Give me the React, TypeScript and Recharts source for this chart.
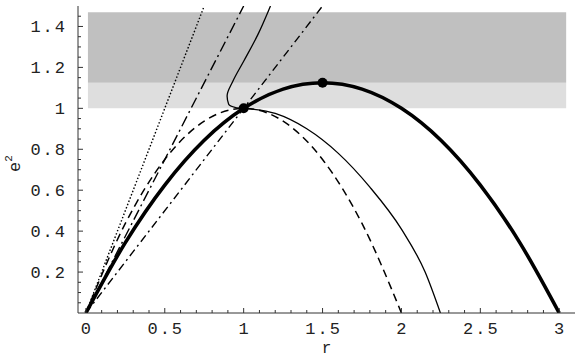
import { ComposedChart, Line, XAxis, YAxis, ReferenceArea, ReferenceDot } from 'recharts';

// e^2 versus r
const thickCurve = [
  { r: 0, e2: 0 },
  { r: 0.25, e2: 0.344 },
  { r: 0.5, e2: 0.625 },
  { r: 0.75, e2: 0.844 },
  { r: 1, e2: 1 },
  { r: 1.25, e2: 1.094 },
  { r: 1.5, e2: 1.125 },
  { r: 1.75, e2: 1.094 },
  { r: 2, e2: 1 },
  { r: 2.25, e2: 0.844 },
  { r: 2.5, e2: 0.625 },
  { r: 2.75, e2: 0.344 },
  { r: 3, e2: 0 },
];

const dashedCurve = [
  { r: 0, e2: 0 },
  { r: 0.25, e2: 0.4375 },
  { r: 0.5, e2: 0.75 },
  { r: 0.75, e2: 0.9375 },
  { r: 1, e2: 1 },
  { r: 1.25, e2: 0.9375 },
  { r: 1.5, e2: 0.75 },
  { r: 1.75, e2: 0.4375 },
  { r: 2, e2: 0 },
];

// thin solid: upper branch comes down from the top and turns into (1, 1)
const thinUpper = [
  { r: 1.17, e2: 1.5 },
  { r: 1.09, e2: 1.36 },
  { r: 1.0, e2: 1.23 },
  { r: 0.93, e2: 1.13 },
  { r: 0.895, e2: 1.06 },
  { r: 0.905, e2: 1.02 },
  { r: 0.95, e2: 1.004 },
  { r: 1, e2: 1 },
];

const thinLower = [
  { r: 1, e2: 1 },
  { r: 1.2, e2: 0.975 },
  { r: 1.4, e2: 0.9 },
  { r: 1.6, e2: 0.78 },
  { r: 1.8, e2: 0.615 },
  { r: 2.0, e2: 0.41 },
  { r: 2.15, e2: 0.2 },
  { r: 2.247, e2: 0 },
];

const dottedLine = [
  { r: 0, e2: 0 },
  { r: 0.75, e2: 1.5 },
];

const steepDashDot = [
  { r: 0, e2: 0 },
  { r: 1, e2: 1.5 },
];

const lowDashDot = [
  { r: 0, e2: 0 },
  { r: 1.5, e2: 1.5 },
];

const markers = [
  { r: 1, e2: 1 },
  { r: 1.5, e2: 1.125 },
];

const bands = [
  { y1: 1, y2: 1.125, fill: '#dedede' },
  { y1: 1.125, y2: 1.47, fill: '#c0c0c0' },
];

const X_MAJOR = [0, 0.5, 1, 1.5, 2, 2.5, 3];
const X_LABELS = ['0', '0.5', '1', '1.5', '2', '2.5', '3'];
const Y_MAJOR = [0.2, 0.4, 0.6, 0.8, 1, 1.2, 1.4];
const Y_LABELS = ['0.2', '0.4', '0.6', '0.8', '1', '1.2', '1.4'];

// minor + major tick positions
const X_TICKS = Array.from({ length: 31 }, (_, i) => i / 10);
const Y_TICKS = Array.from({ length: 29 }, (_, i) => ((i + 1) * 5) / 100);

const FONT = '"Liberation Mono", "DejaVu Sans Mono", monospace';
const FRAME = '#333';

const majorIndex = (v: number, majors: number[]) =>
  majors.findIndex((m) => Math.abs(m - v) < 1e-6);

function BottomTick({ x, y, payload }: any) {
  const i = majorIndex(payload.value, X_MAJOR);
  return (
    <g>
      <line x1={x} x2={x} y1={y} y2={y - (i >= 0 ? 5 : 3)} stroke={FRAME} />
      {i >= 0 && (
        <text x={x + 1} y={y + 21} textAnchor="middle" fontFamily={FONT} fontSize={17} letterSpacing={2} fill="#222">
          {X_LABELS[i]}
        </text>
      )}
    </g>
  );
}

function TopTick({ x, y, payload }: any) {
  const i = majorIndex(payload.value, X_MAJOR);
  return <line x1={x} x2={x} y1={y} y2={y + (i >= 0 ? 5 : 3)} stroke={FRAME} />;
}

function LeftTick({ x, y, payload }: any) {
  const i = majorIndex(payload.value, Y_MAJOR);
  return (
    <g>
      <line x1={x} x2={x + (i >= 0 ? 5 : 3)} y1={y} y2={y} stroke={FRAME} />
      {i >= 0 && (
        <text x={x - 11} y={y + 6} textAnchor="end" fontFamily={FONT} fontSize={17} letterSpacing={2} fill="#222">
          {Y_LABELS[i]}
        </text>
      )}
    </g>
  );
}

function RightTick({ x, y, payload }: any) {
  const i = majorIndex(payload.value, Y_MAJOR);
  return <line x1={x} x2={x - (i >= 0 ? 5 : 3)} y1={y} y2={y} stroke={FRAME} />;
}

function YTitle({ viewBox }: any) {
  const cx = viewBox.x + 20;
  const cy = viewBox.y + viewBox.height / 2 + 4;
  return (
    <text transform={`rotate(-90, ${cx}, ${cy})`} x={cx} y={cy} textAnchor="middle" fontFamily={FONT} fontSize={17} fill="#222">
      <tspan>e</tspan>
      <tspan dy={-8} fontSize={11}>2</tspan>
    </text>
  );
}

function XTitle({ viewBox }: any) {
  return (
    <text x={viewBox.x + viewBox.width / 2} y={353} textAnchor="middle" fontFamily={FONT} fontSize={16} fill="#222">
      r
    </text>
  );
}

export default function App() {
  return (
    <div style={{ position: 'absolute', left: 0, top: 0, background: '#fff' }}>
      <ComposedChart width={581} height={358} margin={{ top: 6, right: 6, left: 0, bottom: 0 }}>
        <XAxis
          xAxisId="b"
          dataKey="r"
          type="number"
          domain={[-0.05, 3.1]}
          ticks={X_TICKS}
          interval={0}
          allowDataOverflow
          height={45}
          tickSize={0}
          tickMargin={0}
          tick={<BottomTick />}
          axisLine={{ stroke: FRAME }}
          label={{ content: <XTitle /> }}
        />
        <XAxis
          xAxisId="t"
          orientation="top"
          dataKey="r"
          type="number"
          domain={[-0.05, 3.1]}
          ticks={X_TICKS}
          interval={0}
          allowDataOverflow
          height={0}
          tickSize={0}
          tickMargin={0}
          tick={<TopTick />}
          axisLine={{ stroke: FRAME }}
        />
        <YAxis
          yAxisId="l"
          dataKey="e2"
          type="number"
          domain={[0, 1.5]}
          ticks={Y_TICKS}
          interval={0}
          allowDataOverflow
          width={78}
          tickSize={0}
          tickMargin={0}
          tick={<LeftTick />}
          axisLine={{ stroke: FRAME }}
          label={{ content: <YTitle /> }}
        />
        <YAxis
          yAxisId="r"
          orientation="right"
          dataKey="e2"
          type="number"
          domain={[0, 1.5]}
          ticks={Y_TICKS}
          interval={0}
          allowDataOverflow
          width={0}
          tickSize={0}
          tickMargin={0}
          tick={<RightTick />}
          axisLine={{ stroke: FRAME }}
        />

        {bands.map((b, i) => (
          <ReferenceArea
            key={i}
            xAxisId="b"
            yAxisId="l"
            x1={0.013}
            x2={3.044}
            y1={b.y1}
            y2={b.y2}
            fill={b.fill}
            fillOpacity={1}
            stroke="none"
          />
        ))}

        <Line xAxisId="b" yAxisId="l" data={dottedLine} dataKey="e2" type="linear" stroke="#000" strokeWidth={1.4} strokeDasharray="1.5 2" dot={false} activeDot={false} isAnimationActive={false} />
        <Line xAxisId="b" yAxisId="l" data={steepDashDot} dataKey="e2" type="linear" stroke="#000" strokeWidth={1.4} strokeDasharray="11 4 2 4" dot={false} activeDot={false} isAnimationActive={false} />
        <Line xAxisId="b" yAxisId="l" data={lowDashDot} dataKey="e2" type="linear" stroke="#000" strokeWidth={1.4} strokeDasharray="8 4 2 4" dot={false} activeDot={false} isAnimationActive={false} />
        <Line xAxisId="b" yAxisId="l" data={dashedCurve} dataKey="e2" type="monotone" stroke="#000" strokeWidth={1.5} strokeDasharray="8 5" dot={false} activeDot={false} isAnimationActive={false} />
        <Line xAxisId="b" yAxisId="l" data={thinUpper} dataKey="e2" type="monotoneY" stroke="#000" strokeWidth={1.3} dot={false} activeDot={false} isAnimationActive={false} />
        <Line xAxisId="b" yAxisId="l" data={thinLower} dataKey="e2" type="monotone" stroke="#000" strokeWidth={1.3} dot={false} activeDot={false} isAnimationActive={false} />
        <Line xAxisId="b" yAxisId="l" data={thickCurve} dataKey="e2" type="monotone" stroke="#000" strokeWidth={3.6} dot={false} activeDot={false} isAnimationActive={false} />

        {markers.map((m, i) => (
          <ReferenceDot key={i} xAxisId="b" yAxisId="l" x={m.r} y={m.e2} r={5} fill="#000" stroke="none" />
        ))}
      </ComposedChart>
    </div>
  );
}
